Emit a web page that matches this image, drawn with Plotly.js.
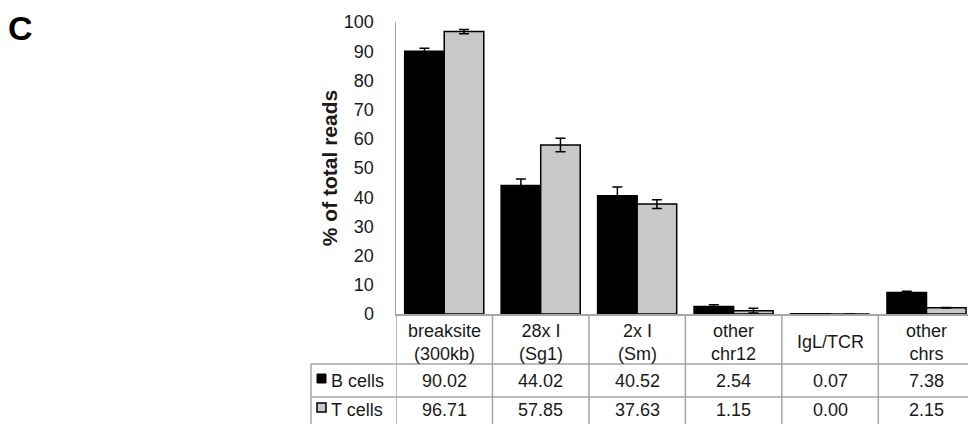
<!DOCTYPE html>
<html>
<head>
<meta charset="utf-8">
<script src="https://cdn.plot.ly/plotly-3.0.1.min.js"></script>
<style>
  html, body { margin: 0; padding: 0; background: #fff; }
  #chart { width: 968px; height: 424px; }
</style>
</head>
<body>
<div id="chart"></div>
<script>
// ---- data ----
const categories = ["breaksite<br>(300kb)", "28x I<br>(Sg1)", "2x I<br>(Sm)", "other<br>chr12", "IgL/TCR", "other<br>chrs"];
const seriesNames = ["B cells", "T cells"];
const bValues = [90.02, 44.02, 40.52, 2.54, 0.07, 7.38];
const tValues = [96.71, 57.85, 37.63, 1.15, 0.00, 2.15];
const bErr = [1.0, 2.2, 3.0, 0.6, 0.05, 0.4];
const tErr = [0.7, 2.3, 1.5, 0.8, 0.0, 0.1];
const yTicks = [0, 10, 20, 30, 40, 50, 60, 70, 80, 90, 100];

// ---- geometry helpers (pixel -> paper) ----
const L = 396, T = 22, W = 572, H = 292;
const px = p => (p - L) / W;
const py = p => (T + H - p) / H;
const gridCol = '#a6a6a6';
const font = 'Liberation Sans, Arial, sans-serif';
const txtCol = '#1a1a1a';
const idx = categories.map((_, i) => i);

const traces = [
  {
    type: 'bar', x: idx, y: bValues, name: seriesNames[0],
    marker: { color: '#000000', line: { color: '#000000', width: 1.5 } },
    error_y: { type: 'data', array: bErr, visible: true, color: '#000', thickness: 1.5, width: 5 }
  },
  {
    type: 'bar', x: idx, y: tValues, name: seriesNames[1],
    marker: { color: '#c8c8c8', line: { color: '#000000', width: 1.5 } },
    error_y: { type: 'data', array: tErr, visible: true, color: '#000', thickness: 1.5, width: 5 }
  }
];

const shapes = [];
const annotations = [];
const lineStyle = { color: gridCol, width: 1.5 };

// vertical column boundaries of the table
for (let i = 0; i <= categories.length; i++) {
  shapes.push({ type: 'line', xref: 'x', yref: 'paper', x0: i - 0.5, x1: i - 0.5,
    y0: 0, y1: py(430), line: lineStyle, layer: 'above' });
}
// left label column edge
shapes.push({ type: 'line', xref: 'paper', yref: 'paper', x0: px(311), x1: px(311),
  y0: py(364), y1: py(430), line: lineStyle });
// row lines
[364, 397].forEach(r => {
  shapes.push({ type: 'line', xref: 'paper', yref: 'paper', x0: px(311), x1: px(975),
    y0: py(r), y1: py(r), line: lineStyle });
});

// header text
categories.forEach((c, i) => {
  annotations.push({ xref: 'x', yref: 'paper', x: i, y: py(342), text: c, showarrow: false,
    font: { family: font, size: 18, color: txtCol }, xanchor: 'center', yanchor: 'middle' });
});
// value rows
const rows = [bValues, tValues];
const rowY = [381, 410];
rows.forEach((vals, r) => {
  vals.forEach((v, i) => {
    annotations.push({ xref: 'x', yref: 'paper', x: i, y: py(rowY[r]), text: v.toFixed(2),
      showarrow: false, font: { family: font, size: 18, color: txtCol },
      xanchor: 'center', yanchor: 'middle' });
  });
  annotations.push({ xref: 'paper', yref: 'paper', x: px(329), y: py(rowY[r]), text: seriesNames[r],
    showarrow: false, font: { family: font, size: 18, color: txtCol },
    xanchor: 'left', yanchor: 'middle' });
});
// legend keys
shapes.push({ type: 'rect', xref: 'paper', yref: 'paper', x0: px(317), x1: px(326),
  y0: py(374), y1: py(383), fillcolor: '#000', line: { color: '#000', width: 1 } });
shapes.push({ type: 'rect', xref: 'paper', yref: 'paper', x0: px(317), x1: px(326),
  y0: py(403), y1: py(412), fillcolor: '#c8c8c8', line: { color: '#000', width: 1.5 } });

// panel letter
annotations.push({ xref: 'paper', yref: 'paper', x: px(6), y: py(28), text: '<b>C</b>',
  showarrow: false, font: { family: font, size: 34, color: '#000' }, xanchor: 'left', yanchor: 'middle' });

const layout = {
  width: 968, height: 424,
  margin: { l: L, r: 968 - L - W, t: T, b: 424 - T - H, pad: 0 },
  paper_bgcolor: '#fff', plot_bgcolor: '#fff',
  barmode: 'group', bargap: 0.18, bargroupgap: 0,
  showlegend: false,
  xaxis: {
    range: [-0.5, 5.43], showticklabels: false, ticks: '', showgrid: false, zeroline: false,
    showline: true, linecolor: gridCol, linewidth: 1.5, fixedrange: true
  },
  yaxis: {
    range: [0, 100], tickvals: yTicks, ticks: '', showgrid: false, zeroline: false,
    showline: true, linecolor: gridCol, linewidth: 1.5, ticklabelstandoff: 17,
    tickfont: { family: font, size: 18, color: txtCol },
    title: { text: '<b>% of total reads</b>', font: { family: font, size: 21, color: txtCol }, standoff: 0 },
    automargin: false, fixedrange: true
  },
  shapes: shapes,
  annotations: annotations
};

Plotly.newPlot('chart', traces, layout, { displayModeBar: false, staticPlot: true });
</script>
</body>
</html>
